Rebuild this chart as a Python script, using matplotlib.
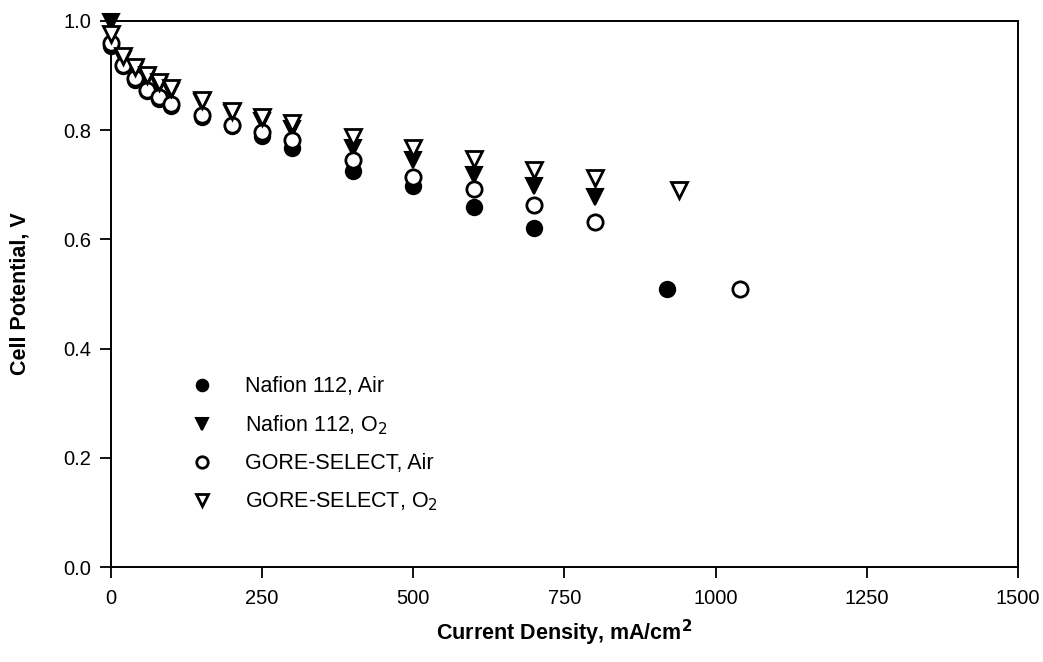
import matplotlib
matplotlib.use("Agg")
import matplotlib.pyplot as plt

plt.rcParams['font.family'] = ['Liberation Sans', 'DejaVu Sans']

# Data (current density mA/cm^2, cell potential V)
nafion_air_x = [0, 20, 40, 60, 80, 100, 150, 200, 250, 300, 400, 500, 600, 700, 920]
nafion_air_y = [0.955, 0.917, 0.892, 0.871, 0.857, 0.845, 0.824, 0.808, 0.789, 0.767, 0.726, 0.698, 0.660, 0.621, 0.510]

nafion_o2_x = [0, 20, 40, 60, 80, 100, 150, 200, 250, 300, 400, 500, 600, 700, 800]
nafion_o2_y = [0.998, 0.930, 0.910, 0.895, 0.882, 0.872, 0.851, 0.832, 0.816, 0.802, 0.767, 0.745, 0.718, 0.697, 0.677]

gore_air_x = [0, 20, 40, 60, 80, 100, 150, 200, 250, 300, 400, 500, 600, 700, 800, 1040]
gore_air_y = [0.959, 0.919, 0.895, 0.874, 0.860, 0.848, 0.828, 0.810, 0.797, 0.782, 0.745, 0.715, 0.692, 0.663, 0.631, 0.510]

gore_o2_x = [0, 20, 40, 60, 80, 100, 150, 200, 250, 300, 400, 500, 600, 700, 800, 940]
gore_o2_y = [0.976, 0.935, 0.916, 0.901, 0.889, 0.877, 0.855, 0.836, 0.825, 0.814, 0.787, 0.767, 0.748, 0.728, 0.712, 0.690]

labels = ['Nafion 112, Air', 'Nafion 112, O$_2$', 'GORE-SELECT, Air', 'GORE-SELECT, O$_2$']
x_ticks = [0, 250, 500, 750, 1000, 1250, 1500]
y_ticks = [0.0, 0.2, 0.4, 0.6, 0.8, 1.0]

fig = plt.figure(figsize=(10.43, 6.62), dpi=100)
ax = fig.add_axes([0.1064, 0.1435, 0.8696, 0.8248])

ax.plot(nafion_air_x, nafion_air_y, 'o', ms=11, mfc='black', mec='black', mew=1.5,
        label=labels[0], clip_on=False, zorder=3)
ax.plot(nafion_o2_x, nafion_o2_y, 'v', ms=12, mfc='black', mec='black', mew=1.5,
        label=labels[1], clip_on=False, zorder=4)
ax.plot(gore_air_x, gore_air_y, 'o', ms=11, mfc='white', mec='black', mew=2.0,
        label=labels[2], clip_on=False, zorder=5)
ax.plot(gore_o2_x, gore_o2_y, 'v', ms=12, mfc='white', mec='black', mew=2.0,
        label=labels[3], clip_on=False, zorder=6)

ax.set_xlim(0, 1500)
ax.set_ylim(0, 1.0)
ax.set_xticks(x_ticks)
ax.set_yticks(y_ticks)
ax.set_yticklabels([f"{v:.1f}" for v in y_ticks])
ax.tick_params(direction='out', length=8, width=1.3, labelsize=14.5, pad=6)
ax.tick_params(axis='x', pad=8)
for s in ax.spines.values():
    s.set_linewidth(1.4)

ax.set_xlabel('Current Density, mA/cm$^\\mathbf{2}$', fontsize=15.5, fontweight='bold', labelpad=7)
ax.set_ylabel('Cell Potential, V', fontsize=15.5, fontweight='bold', labelpad=24)

ax.legend(loc='upper left', bbox_to_anchor=(0.06, 0.377), frameon=False, fontsize=15.5,
          handletextpad=1.0, labelspacing=0.75, markerscale=0.75, borderpad=0.2)

fig.savefig('out.png', dpi=100)
